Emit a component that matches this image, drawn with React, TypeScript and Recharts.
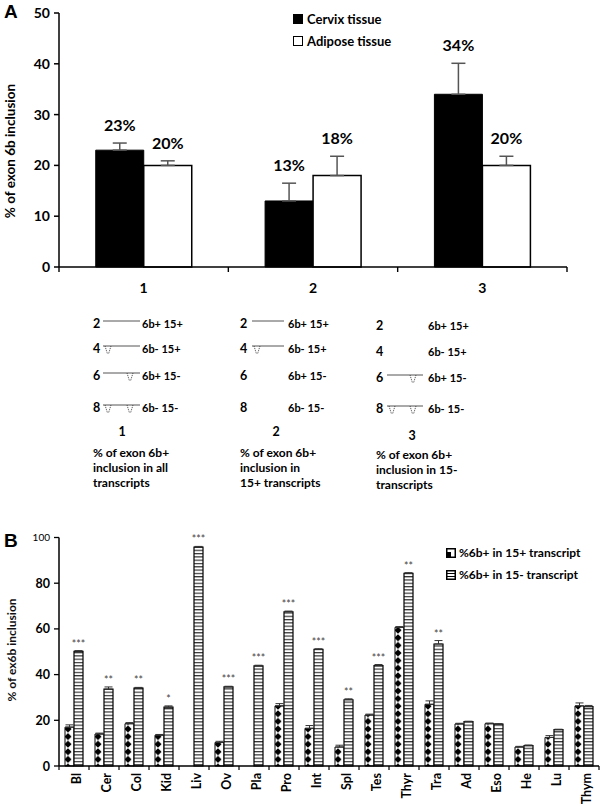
import React from 'react';
import { BarChart, Bar, XAxis, YAxis, ErrorBar, LabelList, Legend, Label } from 'recharts';

const FONT = 'Lato, "Open Sans", sans-serif';

// ---------- Panel A data ----------
const groupsA = ['1', '2', '3'];
const cervixA = [23, 13, 34];
const cervixErrA = [1.4, 3.5, 6.1];
const adiposeA = [20, 18, 20];
const adiposeErrA = [0.9, 3.8, 1.8];
const yTicksA = [0, 10, 20, 30, 40, 50];
const seriesNamesA = ['Cervix tissue', 'Adipose tissue'];

// ---------- Panel B data ----------
const tissuesB = ['Bl', 'Cer', 'Col', 'Kid', 'Liv', 'Ov', 'Pla', 'Pro', 'Int', 'Spl', 'Tes', 'Thyr', 'Tra', 'Ad', 'Eso', 'He', 'Lu', 'Thym'];
const plus15 = [17, 14, 18.5, 13.5, 0, 10.3, 0, 26.3, 16.5, 8.3, 22.3, 60.7, 27, 18.4, 18.5, 8.3, 12.5, 26.3];
const plus15Err = [1, 0.4, 0.5, 0.3, 0, 0.5, 0, 1, 1.2, 0.8, 0.4, 0.3, 1.5, 0.3, 0.3, 0.3, 0.8, 1.3];
const minus15 = [50.2, 33.6, 34.1, 25.8, 95.8, 34.6, 43.8, 67.5, 51, 29, 43.9, 84.3, 53.4, 19.4, 18.3, 8.9, 15.9, 26];
const minus15Err = [0.3, 1, 0.3, 0.5, 0.3, 0.3, 0.3, 0.3, 0.3, 0.4, 0.5, 0.3, 1.5, 0.2, 0.2, 0.3, 0.2, 0.5];
const starsB = ['***', '**', '**', '*', '***', '***', '***', '***', '***', '**', '***', '**', '**', '', '', '', '', ''];
const yTicksB = [0, 20, 40, 60, 80, 100];
const seriesNamesB = ['%6b+ in 15+ transcript', '%6b+ in 15- transcript'];

// ---------- Diagram text ----------
const diagramCols = [
  { num: '1', caption: ['% of exon 6b+', 'inclusion in all', 'transcripts'], rows: ['full', 'dip1', 'dip2', 'dip12'] },
  { num: '2', caption: ['% of exon 6b+', 'inclusion in', '15+ transcripts'], rows: ['full', 'dip1', 'none', 'none'] },
  { num: '3', caption: ['% of exon 6b+', 'inclusion in 15-', 'transcripts'], rows: ['none', 'none', 'dip2', 'dip12'] },
];
const diagramRowNums = ['2', '4', '6', '8'];
const diagramRowLabels = ['6b+ 15+', '6b- 15+', '6b+ 15-', '6b- 15-'];

const dataA = groupsA.map((g, i) => ({
  group: g,
  cervix: cervixA[i],
  cervixErr: [0, cervixErrA[i]],
  adipose: adiposeA[i],
  adiposeErr: [0, adiposeErrA[i]],
}));

const dataB = tissuesB.map((t, i) => ({
  tissue: t,
  plus: plus15[i],
  plusErr: [0, plus15Err[i]],
  minus: minus15[i],
  minusErr: [0, minus15Err[i]],
}));

const findIdx = (arr: number[], v: number) => arr.indexOf(v);

const PctLabel = (vals: number[], errs: number[]) => (props: any) => {
  const { x, y, width, height, value } = props;
  const i = props.index ?? findIdx(vals, value);
  const ppu = height / value;
  const top = y - errs[i] * ppu;
  return (
    <text x={x + width / 2} y={top - 12} textAnchor="middle" fontFamily={FONT} fontWeight="bold" fontSize={16} fill="#000">
      {value}%
    </text>
  );
};

const StarLabel = (props: any) => {
  const { x, y, width, height, value } = props;
  const i = props.index ?? findIdx(minus15, value);
  const s = starsB[i];
  if (!s) return null;
  const ppu = height / value;
  const top = y - minus15Err[i] * ppu;
  return (
    <text x={x + width / 2} y={top - 3} textAnchor="middle" fontFamily={FONT} fontSize={10.5} fill="#444">
      {s}
    </text>
  );
};

const TickA = (props: any) => {
  const { x, y, payload, index, visibleTicksCount, width } = props;
  const half = payload?.offset ?? width / visibleTicksCount / 2;
  return (
    <g>
      <line x1={x - half} x2={x - half} y1={y} y2={y + 5} stroke="#000" strokeWidth={1.4} />
      {index === visibleTicksCount - 1 && <line x1={x + half} x2={x + half} y1={y} y2={y + 5} stroke="#000" strokeWidth={1.4} />}
      <text x={x} y={y + 26} textAnchor="middle" fontFamily={FONT} fontWeight="bold" fontSize={14} fill="#000">
        {payload.value}
      </text>
    </g>
  );
};

const TickB = (props: any) => {
  const { x, y, payload, index, visibleTicksCount, width } = props;
  const half = payload?.offset ?? width / visibleTicksCount / 2;
  const ty = y + 7;
  return (
    <g>
      <line x1={x - half} x2={x - half} y1={y} y2={y + 4} stroke="#000" strokeWidth={1.2} />
      {index === visibleTicksCount - 1 && <line x1={x + half} x2={x + half} y1={y} y2={y + 4} stroke="#000" strokeWidth={1.2} />}
      <text x={x + 2} y={ty} transform={`rotate(-90 ${x + 2} ${ty})`} textAnchor="end" dominantBaseline="central" fontFamily={FONT} fontWeight="bold" fontSize={12.5} fill="#000">
        {payload.value}
      </text>
    </g>
  );
};

const YTickA = (props: any) => {
  const { x, y, payload } = props;
  return (
    <text x={x} y={y} dy="0.36em" textAnchor="end" fontFamily={FONT} fontWeight="bold" fontSize={14} fill="#000">
      {payload.value}
    </text>
  );
};

const YTickB = (props: any) => {
  const { x, y, payload } = props;
  const top = payload.value === 100;
  return (
    <text x={x} y={y} dy="0.36em" textAnchor="end" fontFamily={FONT} fontWeight={top ? 'normal' : 'bold'} fontSize={top ? 10 : 12.5} fill="#000">
      {payload.value}
    </text>
  );
};

const YLabelA = () => (
  <text x={15} y={151} transform="rotate(-90 15 151)" textAnchor="middle" fontFamily={FONT} fontWeight="bold" fontSize={13.5} fill="#000">
    % of exon 6b inclusion
  </text>
);

const YLabelB = () => (
  <text x={16} y={130} transform="rotate(-90 16 130)" textAnchor="middle" fontFamily={FONT} fontWeight="bold" fontSize={12} fill="#111">
    % of ex6b inclusion
  </text>
);

const LegendA = () => (
  <div style={{ fontFamily: FONT, fontWeight: 'bold', fontSize: 13, color: '#000', lineHeight: '22px' }}>
    {seriesNamesA.map((n, i) => (
      <div key={n} style={{ display: 'flex', alignItems: 'center' }}>
        <span style={{ display: 'inline-block', width: 8, height: 8, border: '1px solid #000', background: i === 0 ? '#000' : '#fff', marginRight: 4 }} />
        {n}
      </div>
    ))}
  </div>
);

const LegendB = () => (
  <div style={{ fontFamily: FONT, fontWeight: 'bold', fontSize: 12, color: '#000', lineHeight: '22px' }}>
    {seriesNamesB.map((n, i) => (
      <div key={n} style={{ display: 'flex', alignItems: 'center' }}>
        <svg width={10} height={10} style={{ marginRight: 3 }}>
          <rect x={0.75} y={0.75} width={8.5} height={8.5} fill="#fff" stroke="#000" strokeWidth={1.5} />
          {i === 0 ? <polygon points="1,9 1,4 5,4 5,9" fill="#000" /> : <rect x={1} y={3.5} width={8} height={3} fill="#fff" stroke="#000" strokeWidth={1} />}
        </svg>
        {n}
      </div>
    ))}
  </div>
);

const Dip = ({ x, y }: { x: number; y: number }) => (
  <g>
    <path d={`M${x - 3},${y} L${x - 0.5},${y + 8} M${x + 3},${y} L${x + 0.5},${y + 8}`} stroke="#444" strokeWidth={1} strokeDasharray="1 1" fill="none" />
  </g>
);

const Diagram = () => {
  const colX = [93, 240, 376];
  const lineStart = [103, 252, 387];
  const lineEnd = [140, 284, 423];
  const textX = [142, 288, 428];
  const rowY = [[324, 349, 376, 408], [324, 349, 376, 408], [326, 352, 378, 409]];
  const numPos = [[122, 436], [276, 436], [412, 440]];
  const capY = [[457, 472, 487], [457, 472, 487], [459, 474, 489]];
  return (
    <g fontFamily={FONT} fontWeight="bold" fill="#000">
      {diagramCols.map((c, ci) => (
        <g key={ci}>
          {c.rows.map((r, ri) => {
            const cy = rowY[ci][ri];
            const ly = cy - 3;
            const d1 = lineStart[ci] + 5;
            const d2 = lineEnd[ci] - 10;
            return (
              <g key={ri}>
                <text x={colX[ci]} y={cy + 4} fontSize={12.5}>{diagramRowNums[ri]}</text>
                <text x={textX[ci]} y={cy + 4} fontSize={11}>{diagramRowLabels[ri]}</text>
                {r !== 'none' && <line x1={lineStart[ci]} x2={lineEnd[ci]} y1={ly} y2={ly} stroke="#555" strokeWidth={1} />}
                {(r === 'dip1' || r === 'dip12') && <Dip x={d1} y={ly} />}
                {(r === 'dip2' || r === 'dip12') && <Dip x={d2} y={ly} />}
              </g>
            );
          })}
          <text x={numPos[ci][0]} y={numPos[ci][1]} fontSize={12.5} textAnchor="middle">{c.num}</text>
          {c.caption.map((t, k) => (
            <text key={k} x={colX[ci]} y={capY[ci][k]} fontSize={12}>{t}</text>
          ))}
        </g>
      ))}
    </g>
  );
};

export default function App() {
  return (
    <div style={{ position: 'absolute', left: 0, top: 0, width: 600, height: 806, background: '#fff', overflow: 'hidden' }}>
      <div style={{ position: 'absolute', left: 0, top: 0 }}>
        <BarChart width={600} height={300} data={dataA} margin={{ top: 13, right: 33, left: 0, bottom: 0 }} barCategoryGap="21.7%" barGap={0}>
          <XAxis dataKey="group" height={33} axisLine={{ stroke: '#000', strokeWidth: 1.5 }} tickLine={false} tickSize={0} tickMargin={0} tick={<TickA />} interval={0} />
          <YAxis width={59} domain={[0, 50]} ticks={yTicksA} interval={0} axisLine={{ stroke: '#000', strokeWidth: 1.5 }} tickLine={{ stroke: '#000', strokeWidth: 1.5 }} tickSize={5} tickMargin={4} tick={<YTickA />}>
            <Label content={<YLabelA />} />
          </YAxis>
          <Legend layout="horizontal" align="center" verticalAlign="middle" content={<LegendA />} wrapperStyle={{ position: 'absolute', left: 293, top: 8, width: 'auto', height: 'auto' }} />
          <Bar dataKey="cervix" name={seriesNamesA[0]} fill="#000" stroke="#000" strokeWidth={1} isAnimationActive={false}>
            <ErrorBar dataKey="cervixErr" width={7} stroke="#555" strokeWidth={1.5} direction="y" />
            <LabelList dataKey="cervix" content={PctLabel(cervixA, cervixErrA)} />
          </Bar>
          <Bar dataKey="adipose" name={seriesNamesA[1]} fill="#fff" stroke="#000" strokeWidth={1.5} isAnimationActive={false}>
            <ErrorBar dataKey="adiposeErr" width={7} stroke="#555" strokeWidth={1.5} direction="y" />
            <LabelList dataKey="adipose" content={PctLabel(adiposeA, adiposeErrA)} />
          </Bar>
        </BarChart>
      </div>

      <svg width={600} height={806} style={{ position: 'absolute', left: 0, top: 0, pointerEvents: 'none' }}>
        <text x={4} y={18} fontFamily='"Liberation Sans", Arial, sans-serif' fontWeight="bold" fontSize={19} fill="#000">A</text>
        <text x={4} y={547} fontFamily='"Liberation Sans", Arial, sans-serif' fontWeight="bold" fontSize={19} fill="#000">B</text>
        <Diagram />
      </svg>

      <div style={{ position: 'absolute', left: 0, top: 520 }}>
        <BarChart width={600} height={286} data={dataB} margin={{ top: 17.5, right: 1, left: 0, bottom: 0 }} barCategoryGap="20%" barGap={0}>
          <defs>
            <pattern id="diam" patternUnits="userSpaceOnUse" x={0} y={0} width={30} height={7.6}>
              <rect x={0} y={0} width={30} height={7.6} fill="#fff" />
              <polygon points="8,0.2 11.6,3.8 8,7.4 4.4,3.8" fill="#000" />
            </pattern>
            <pattern id="stripes" patternUnits="userSpaceOnUse" x={0} y={0} width={4} height={3.3}>
              <rect x={0} y={0} width={4} height={3.3} fill="#fff" />
              <rect x={0} y={0} width={4} height={1.2} fill="#333" />
            </pattern>
          </defs>
          <XAxis dataKey="tissue" height={40} axisLine={{ stroke: '#000', strokeWidth: 1.5 }} tickLine={false} tickSize={0} tickMargin={0} tick={<TickB />} interval={0} />
          <YAxis width={59} domain={[0, 100]} ticks={yTicksB} interval={0} axisLine={{ stroke: '#000', strokeWidth: 1.5 }} tickLine={{ stroke: '#000', strokeWidth: 1.3 }} tickSize={5} tickMargin={4} tick={<YTickB />}>
            <Label content={<YLabelB />} />
          </YAxis>
          <Legend layout="horizontal" align="center" verticalAlign="middle" content={<LegendB />} wrapperStyle={{ position: 'absolute', left: 446, top: 22, width: 'auto', height: 'auto' }} />
          <Bar dataKey="plus" name={seriesNamesB[0]} fill="url(#diam)" stroke="#000" strokeWidth={1} isAnimationActive={false}>
            <ErrorBar dataKey="plusErr" width={4} stroke="#333" strokeWidth={1} direction="y" />
          </Bar>
          <Bar dataKey="minus" name={seriesNamesB[1]} fill="url(#stripes)" stroke="#000" strokeWidth={1.2} isAnimationActive={false}>
            <ErrorBar dataKey="minusErr" width={4} stroke="#333" strokeWidth={1} direction="y" />
            <LabelList dataKey="minus" content={StarLabel} />
          </Bar>
        </BarChart>
      </div>
    </div>
  );
}
